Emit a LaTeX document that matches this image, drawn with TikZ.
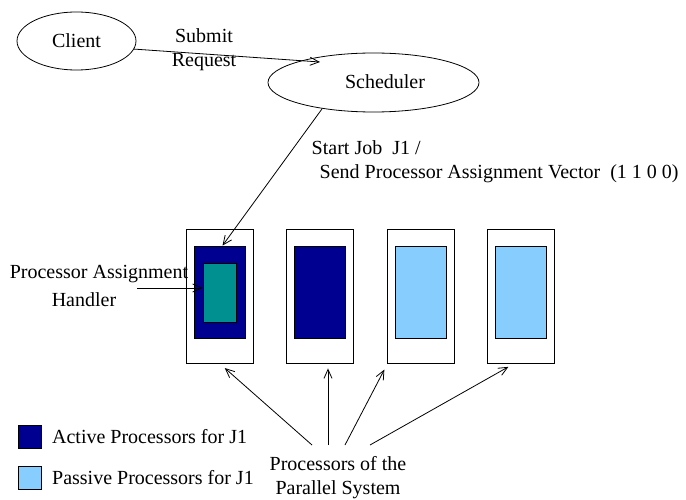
\documentclass[tikz,border=0pt]{standalone}
\usepackage{fontspec}
\setmainfont{Liberation Serif}
\usetikzlibrary{positioning, shapes.geometric, arrows.meta}
\definecolor{activecol}{RGB}{0,0,144}
\definecolor{passivecol}{RGB}{135,206,255}
\definecolor{handlercol}{RGB}{0,144,144}

\begin{document}
\begin{tikzpicture}[
        x=1pt, y=-1pt,
        line width=0.8pt,
        every node/.style={font=\fontsize{20}{24}\selectfont},
        ell/.style={draw, ellipse, inner sep=0pt},
        proc/.style={draw, minimum width=67pt, minimum height=134pt, inner sep=0pt},
        cpu/.style={draw, minimum width=51pt, minimum height=92pt, inner sep=0pt},
        active/.style={cpu, fill=activecol},
        passive/.style={cpu, fill=passivecol},
        legbox/.style={draw, minimum size=23pt, inner sep=0pt},
        arrow/.style={-{Straight Barb[length=9pt,width=8pt]}},
    ]
        \useasboundingbox (0,0) rectangle (686,500);

        % Client and scheduler
        \node[ell, minimum width=119pt, minimum height=58pt] (client) at (76.5,41) {Client};
        \node[ell, minimum width=211pt, minimum height=59pt] (sched) at (373.5,82.5) {};
        \node (schedtxt) at (385,82) {Scheduler};
        \node[align=center] (submit) at (204,50) {Submit\\Request};

        % Processors of the parallel system
        \foreach \i/\x in {1/219.5, 2/319.5, 3/420.5, 4/520.5}
            \node[proc] (proc\i) at (\x,296) {};
        \node[active] (cpu1) at (219.5,292) {};
        \node[active] (cpu2) at (319.5,292) {};
        \node[passive] (cpu3) at (420.5,292) {};
        \node[passive] (cpu4) at (520.5,292) {};
        \node[draw, fill=handlercol, minimum width=33pt, minimum height=59pt, inner sep=0pt] (pah) at (219.5,292.5) {};

        % Labels
        \node[anchor=west] (start) at (308,148) {Start Job~~J1 /};
        \node[anchor=west] (send) at (316,174) {Send Processor Assignment Vector~~(1 1 0 0)};
        \node (pahtxt) at (99,274) {Processor Assignment};
        \node (pahtxt2) at (84,300) {Handler};
        \node[align=center] (sys) at (338,478) {Processors of the\\Parallel System};

        % Legend
        \node[legbox, fill=activecol] (legact) at (29.5,436.5) {};
        \node[legbox, fill=passivecol] (legpas) at (29.5,477.5) {};
        \node[right=7pt of legact] (legacttxt) {Active Processors for J1};
        \node[right=7pt of legpas] (legpastxt) {Passive Processors for J1};

        \coordinate (pahfrom) at (137,288);
        \coordinate (f1) at (312,445);
        \coordinate (f2) at (328,445);
        \coordinate (f3) at (345,445);
        \coordinate (f4) at (370,445);

        \draw[arrow] (client.-8) -- (320,62);
        \draw[arrow] (sched.207) -- ([xshift=3pt]cpu1.north);
        \draw[arrow] (pahfrom) -- (pahfrom -| pah.west);
        \draw[arrow, shorten >=7pt] (f1) -- (proc1.south);
        \draw[arrow, shorten >=5pt] (f2) -- ([xshift=8.5pt]proc2.south);
        \draw[arrow, shorten >=7pt] (f3) -- ([xshift=1pt]proc3.south west);
        \draw[arrow, shorten >=7pt] (f4) -- ([xshift=-6pt]proc4.south);
    \end{tikzpicture}
\end{document}
